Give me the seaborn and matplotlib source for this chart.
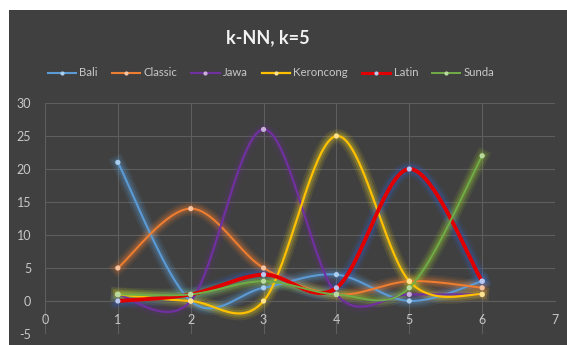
import numpy as np
import pandas as pd
import matplotlib
matplotlib.use("Agg")
import matplotlib.pyplot as plt
from matplotlib.patches import Rectangle
from matplotlib.lines import Line2D
import seaborn as sns

# ---- data ----
x_vals = [1, 2, 3, 4, 5, 6]
bali = [21, 0, 2, 4, 0, 3]
classic = [5, 14, 5, 1, 3, 2]
jawa = [1, 0, 26, 1, 1, 1]
keroncong = [1, 0, 0, 25, 3, 1]
latin = [0, 1, 4, 2, 20, 3]
sunda = [1, 1, 3, 1, 2, 22]
series_names = ["Bali", "Classic", "Jawa", "Keroncong", "Latin", "Sunda"]
title = "k-NN, k=5"
x_ticks = [0, 1, 2, 3, 4, 5, 6, 7]
y_ticks = [-5, 0, 5, 10, 15, 20, 25, 30]

series = dict(zip(series_names, [bali, classic, jawa, keroncong, latin, sunda]))

colors = {"Bali": "#5B9BD5", "Classic": "#ED7D31", "Jawa": "#7030A0",
          "Keroncong": "#FFC000", "Latin": "#E00000", "Sunda": "#70AD47"}
glow = {"Bali": "#5B9BD5", "Classic": "#ED7D31", "Jawa": "#7030A0",
        "Keroncong": "#E8D020", "Latin": "#3060D0", "Sunda": "#9BD030"}
marker_fc = {"Bali": "#A9CDEE", "Classic": "#F6C3A0", "Jawa": "#C8B0DA",
             "Keroncong": "#FFE38A", "Latin": "#B8C8F0", "Sunda": "#B9DA9F"}
widths = {"Bali": 1.5, "Classic": 1.5, "Jawa": 1.6, "Keroncong": 1.6,
          "Latin": 2.8, "Sunda": 1.4}


def smooth(xs, ys, n=40):
    xs = np.asarray(xs, float)
    ys = np.asarray(ys, float)
    P = np.column_stack([xs, ys])
    Pe = np.vstack([P[0], P, P[-1]])
    out = []
    t = np.linspace(0, 1, n)[:, None]
    for i in range(len(P) - 1):
        p0, p1, p2, p3 = Pe[i], Pe[i + 1], Pe[i + 2], Pe[i + 3]
        c1 = p1 + (p2 - p0) / 6.0
        c2 = p2 - (p3 - p1) / 6.0
        seg = ((1 - t) ** 3) * p1 + 3 * ((1 - t) ** 2) * t * c1 + 3 * (1 - t) * t ** 2 * c2 + t ** 3 * p2
        out.append(seg if i == 0 else seg[1:])
    arr = np.vstack(out)
    return arr[:, 0], arr[:, 1]


plt.rcParams["font.family"] = ["Lato", "DejaVu Sans"]
W, H = 567, 345
fig = plt.figure(figsize=(W / 100, H / 100), dpi=100, facecolor="#FFFFFF")
bg = "#404040"
fig.patches.append(Rectangle((9 / W, 0), 1 - 9 / W, 1 - 10 / H, transform=fig.transFigure,
                             facecolor=bg, edgecolor="none", zorder=-10))

ax = fig.add_axes([45 / W, 1 - 334 / H, 510 / W, 231 / H])
ax.set_zorder(2)
ax.set_facecolor(bg)

for name in series_names:
    sx, sy = smooth(x_vals, series[name])
    d = pd.DataFrame({"x": sx, "y": sy})
    # glow layers
    for lw, a in [(10, 0.10), (7, 0.14), (4.5, 0.2)]:
        sns.lineplot(data=d, x="x", y="y", ax=ax, sort=False, estimator=None,
                     color=glow[name], lw=lw + widths[name] - 1.5,
                     alpha=a * (0.5 if name == "Jawa" else 1.0), zorder=2)
    sns.lineplot(data=d, x="x", y="y", ax=ax, sort=False, estimator=None,
                 color=colors[name], lw=widths[name], zorder=3)

for name in series_names:
    dp = pd.DataFrame({"x": x_vals, "y": series[name]})
    sns.scatterplot(data=dp, x="x", y="y", ax=ax, s=14, color=marker_fc[name],
                    edgecolor="none", zorder=4)

ax.set_xlim(0, 7)
ax.set_ylim(-5, 30)
ax.set_xticks(x_ticks)
ax.set_yticks(y_ticks)
ax.set_xticklabels([str(v) for v in x_ticks])
ax.set_yticklabels([str(v) for v in y_ticks])
ax.grid(True, color="#5E5E5E", lw=0.8)
ax.set_axisbelow(True)
for s in ["top", "right", "left"]:
    ax.spines[s].set_visible(False)
ax.spines["bottom"].set_position(("data", 0))
ax.spines["bottom"].set_color("#5E5E5E")
ax.tick_params(axis="both", length=0, colors="#C8C8C8", labelsize=9)
ax.tick_params(axis="x", pad=9)
ax.tick_params(axis="y", pad=10)
ax.set_xlabel("")
ax.set_ylabel("")
if ax.get_legend():
    ax.get_legend().remove()

fig.text(268 / W, 1 - 38 / H, title, ha="center", va="center", color="#F2F2F2",
         fontsize=13, fontweight="bold")

handles = [Line2D([0], [0], color=colors[n], lw=widths[n] if n != "Latin" else 2.2,
                  marker="o", markersize=3, markerfacecolor=marker_fc[n],
                  markeredgecolor="none") for n in series_names]
fig.legend(handles, series_names, loc="center", bbox_to_anchor=(271 / W, 1 - 73 / H),
           ncol=6, frameon=False, fontsize=8.2, labelcolor="#C8C8C8",
           handlelength=2.5, handletextpad=0.3, columnspacing=1.2)

fig.savefig("out.png", dpi=100, facecolor=fig.get_facecolor())
